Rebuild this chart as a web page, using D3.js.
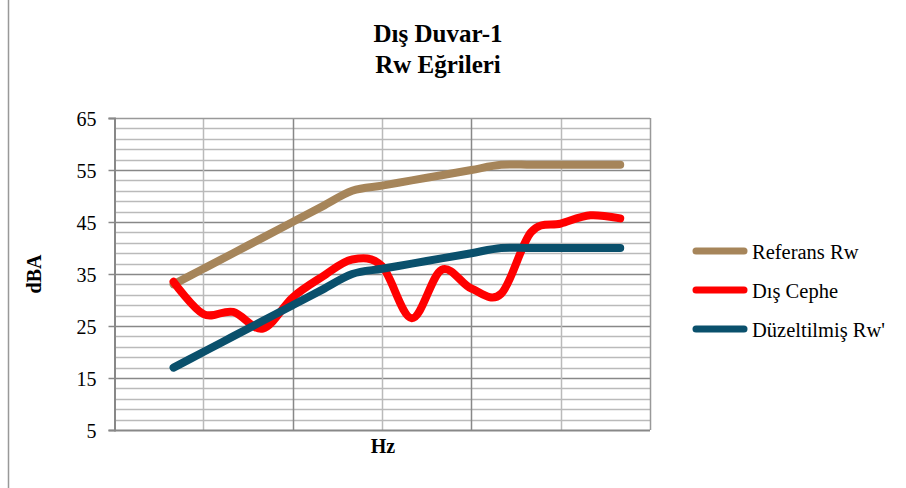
<!DOCTYPE html>
<html>
<head>
<meta charset="utf-8">
<script src="https://cdn.jsdelivr.net/npm/d3@7"></script>
<style>
  html, body { margin: 0; padding: 0; background: #fff; }
  svg { display: block; }
  text { font-family: "Liberation Serif", "Times New Roman", serif; }
</style>
</head>
<body>
<svg id="chart" width="906" height="488"></svg>
<script>
// ---- data ----
const frequencies = [100, 125, 160, 200, 250, 315, 400, 500, 630, 800, 1000, 1250, 1600, 2000, 2500, 3150];
const referansRw = [33, 36, 39, 42, 45, 48, 51, 52, 53, 54, 55, 56, 56, 56, 56, 56];
const disCephe = [33.5, 27.3, 27.7, 24.5, 30.5, 34.5, 37.8, 36.5, 26.5, 35.8, 32.2, 31.2, 43, 44.7, 46.3, 45.7];
const duzeltilmisRw = [17, 20, 23, 26, 29, 32, 35, 36, 37, 38, 39, 40, 40, 40, 40, 40];
const yTicks = [5, 15, 25, 35, 45, 55, 65];
const seriesNames = ["Referans Rw", "Dış Cephe", "Düzeltilmiş Rw'"];
const titleLines = ["Dış Duvar-1", "Rw Eğrileri"];

const colors = ["#A6855A", "#FF0000", "#0A506C"];
const series = [referansRw, disCephe, duzeltilmisRw];

(function () {
const svg = d3.select("#chart");

// outer chart border
svg.append("rect").attr("x", 8.5).attr("y", -5).attr("width", 1000).attr("height", 495)
  .attr("fill", "none").attr("stroke", "#999").attr("stroke-width", 1.5);

const pLeft = 114, pRight = 650, pTop = 118, pBottom = 430;
// category axis: two empty category slots before the first band, one after the last
const x = d3.scaleLinear().domain([-2, frequencies.length]).range([pLeft, pRight]);
const y = d3.scaleLinear().domain([5, 65]).range([pBottom, pTop]);

// horizontal gridlines
const g = svg.append("g");
for (let v = 7; v < 65; v += 2) {
  const major = (v - 5) % 10 === 0;
  g.append("line").attr("x1", pLeft).attr("x2", pRight)
    .attr("y1", Math.round(y(v)) + 0.5).attr("y2", Math.round(y(v)) + 0.5)
    .attr("stroke", major ? "#888" : "#bababa").attr("stroke-width", 1.5);
}
// vertical gridlines
for (let i = 1; i < frequencies.length; i += 3) {
  const major = (i - 1) % 6 === 3;
  g.append("line").attr("y1", pTop).attr("y2", pBottom)
    .attr("x1", Math.round(x(i)) + 0.5).attr("x2", Math.round(x(i)) + 0.5)
    .attr("stroke", major ? "#888" : "#bababa").attr("stroke-width", 1.5);
}
// plot border top / right
g.append("line").attr("x1", pLeft).attr("x2", pRight).attr("y1", pTop + 0.5).attr("y2", pTop + 0.5)
  .attr("stroke", "#999").attr("stroke-width", 1.5);
g.append("line").attr("x1", pRight + 0.5).attr("x2", pRight + 0.5).attr("y1", pTop).attr("y2", pBottom)
  .attr("stroke", "#999").attr("stroke-width", 1.5);

// x axis line (no labels)
g.append("line").attr("x1", pLeft).attr("x2", pRight).attr("y1", pBottom + 0.5).attr("y2", pBottom + 0.5)
  .attr("stroke", "#888").attr("stroke-width", 2);

// y axis
const yAxis = svg.append("g").attr("transform", `translate(${pLeft + 0.5},0)`)
  .call(d3.axisLeft(y).tickValues(yTicks).tickSize(6).tickPadding(12).tickFormat(d3.format("d")));
yAxis.select(".domain").attr("stroke", "#888").attr("stroke-width", 2);
yAxis.selectAll(".tick line").attr("stroke", "#888").attr("stroke-width", 1.5);
yAxis.selectAll(".tick text").attr("font-family", "Liberation Serif, serif")
  .attr("font-size", 20).attr("fill", "#000").attr("dy", "0.36em");

// lines
const line = d3.line().x((d, i) => x(i)).y(d => y(d)).curve(d3.curveCardinal.tension(0));
series.forEach((s, k) => {
  svg.append("path").datum(s).attr("d", line)
    .attr("fill", "none").attr("stroke", colors[k]).attr("stroke-width", 8)
    .attr("stroke-linecap", "round").attr("stroke-linejoin", "round");
});

// title
svg.append("text").attr("x", 438).attr("y", 42).attr("text-anchor", "middle")
  .attr("font-size", 25).attr("font-weight", "bold").text(titleLines[0]);
svg.append("text").attr("x", 438).attr("y", 73).attr("text-anchor", "middle")
  .attr("font-size", 25).attr("font-weight", "bold").text(titleLines[1]);

// axis titles
svg.append("text").attr("x", 383).attr("y", 453).attr("text-anchor", "middle")
  .attr("font-size", 20).attr("font-weight", "bold").text("Hz");
svg.append("text").attr("transform", "translate(41,274) rotate(-90)").attr("text-anchor", "middle")
  .attr("font-size", 20).attr("font-weight", "bold").text("dBA");

// legend
const legendY = [251, 290, 329];
seriesNames.forEach((name, k) => {
  svg.append("line").attr("x1", 696).attr("x2", 744).attr("y1", legendY[k]).attr("y2", legendY[k])
    .attr("stroke", colors[k]).attr("stroke-width", 7).attr("stroke-linecap", "round");
  svg.append("text").attr("x", 752).attr("y", legendY[k] + 8).attr("font-size", 20.5)
    .attr("fill", "#000").text(name);
});
})();
</script>
</body>
</html>
